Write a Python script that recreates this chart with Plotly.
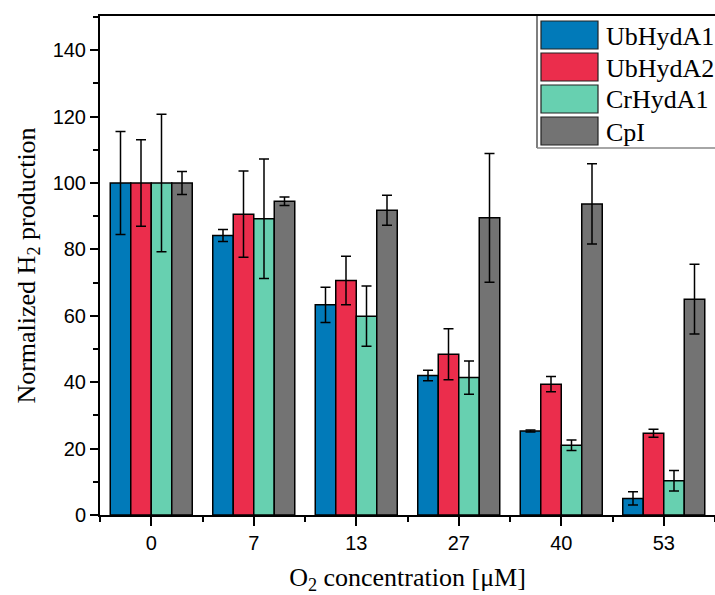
import plotly.graph_objects as go

# O2 concentrations (categories) and normalized H2 production per enzyme
concentrations = ["0", "7", "13", "27", "40", "53"]

ubhyda1 = [100, 84.2, 63.3, 42.0, 25.3, 5.0]
ubhyda1_err = [15.5, 1.8, 5.3, 1.6, 0.3, 2.0]

ubhyda2 = [100, 90.6, 70.6, 48.4, 39.4, 24.6]
ubhyda2_err = [13.0, 13.0, 7.3, 7.7, 2.3, 1.2]

crhyda1 = [100, 89.2, 59.9, 41.4, 21.0, 10.3]
crhyda1_err = [20.7, 18.0, 9.1, 5.0, 1.6, 3.1]

cpi = [100, 94.5, 91.8, 89.5, 93.7, 65.0]
cpi_err = [3.5, 1.3, 4.5, 19.4, 12.1, 10.5]

series = [
    ("UbHydA1", ubhyda1, ubhyda1_err, "#017ab9"),
    ("UbHydA2", ubhyda2, ubhyda2_err, "#eb2d4c"),
    ("CrHydA1", crhyda1, crhyda1_err, "#67d0b0"),
    ("CpI", cpi, cpi_err, "#737373"),
]

x_pos = list(range(len(concentrations)))

fig = go.Figure()
for name, vals, errs, color in series:
    fig.add_trace(go.Bar(
        x=x_pos, y=vals, name=name,
        marker=dict(color=color, line=dict(color="black", width=1.5)),
        error_y=dict(type="data", array=errs, color="black",
                     thickness=1.5, width=5),
        showlegend=False,
    ))

# Custom boxed legend with large swatches (pixel layout converted to paper units)
W, H = 715, 595
PL, PT, PB = 100, 16, 515


def px_x(x):
    return (x - PL) / (W - PL)


def px_y(y):
    return (PB - y) / (PB - PT)


leg_x0, leg_x1 = 541, 598
leg_rows = [(21, 49), (53, 81), (85, 113), (117, 145)]
for (name, _, _, color), (y0, y1) in zip(series, leg_rows):
    fig.add_shape(type="rect", xref="paper", yref="paper",
                  x0=px_x(leg_x0), x1=px_x(leg_x1),
                  y0=px_y(y1), y1=px_y(y0),
                  fillcolor=color, line=dict(color="#222222", width=1.2))
    fig.add_annotation(xref="paper", yref="paper",
                       x=px_x(604), y=px_y((y0 + y1) / 2 + 1),
                       text=name, showarrow=False, xanchor="left", yanchor="middle",
                       font=dict(family="Liberation Serif", size=26, color="black"))
# legend frame: left and bottom edges
fig.add_shape(type="line", xref="paper", yref="paper",
              x0=px_x(537), x1=px_x(537), y0=px_y(148), y1=1,
              line=dict(color="#555555", width=1.5))
fig.add_shape(type="line", xref="paper", yref="paper",
              x0=px_x(537), x1=1.0, y0=px_y(148), y1=px_y(148),
              line=dict(color="#888888", width=1.5))

fig.update_layout(
    width=W, height=H,
    margin=dict(l=PL, r=0, t=PT, b=H - PB),
    plot_bgcolor="white", paper_bgcolor="white",
    barmode="group", bargap=0.2, bargroupgap=0,
    font=dict(family="Liberation Sans", size=20, color="black"),
)

fig.update_xaxes(
    range=[-0.5, 5.5],
    tickmode="array", tickvals=x_pos, ticktext=concentrations,
    ticks="outside", ticklen=9, tickwidth=2, tickcolor="black",
    minor=dict(tick0=0.5, dtick=1, ticks="outside", ticklen=5,
               tickwidth=2, tickcolor="black"),
    showline=True, linewidth=2, linecolor="black", mirror=True,
    showgrid=False, zeroline=False,
    tickfont=dict(family="Liberation Sans", size=20),
    title=dict(text="O<sub>2</sub> concentration [μM]",
               font=dict(family="Liberation Serif", size=26), standoff=18),
)
fig.update_yaxes(
    range=[0, 150.3],
    tickmode="linear", tick0=0, dtick=20,
    ticks="outside", ticklen=8, tickwidth=2, tickcolor="black",
    minor=dict(dtick=10, ticks="outside", ticklen=5, tickwidth=2,
               tickcolor="black"),
    showline=True, linewidth=2, linecolor="black", mirror=False,
    showgrid=False, zeroline=False,
    tickfont=dict(family="Liberation Sans", size=20),
    title=dict(text="Normalized H<sub>2</sub> production",
               font=dict(family="Liberation Serif", size=26), standoff=10),
)

fig.write_html("out.html")
